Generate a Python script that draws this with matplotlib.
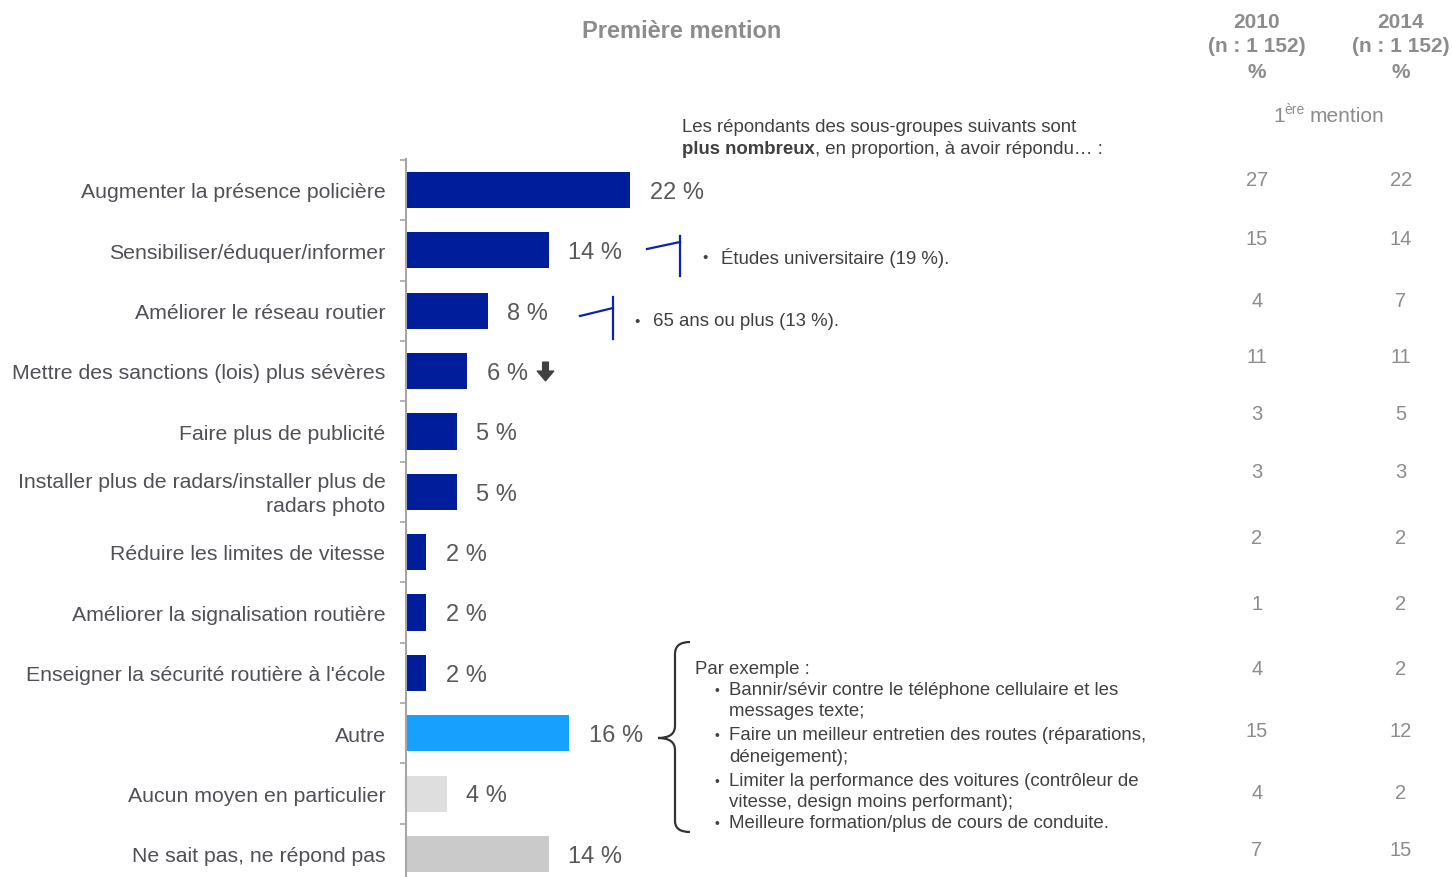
import matplotlib.pyplot as plt
from matplotlib.path import Path
from matplotlib.patches import PathPatch, Polygon

plt.rcParams['font.family'] = ['Liberation Sans', 'DejaVu Sans']

categories = [
    "Augmenter la présence policière",
    "Sensibiliser/éduquer/informer",
    "Améliorer le réseau routier",
    "Mettre des sanctions (lois) plus sévères",
    "Faire plus de publicité",
    "Installer plus de radars/installer plus de\nradars photo",
    "Réduire les limites de vitesse",
    "Améliorer la signalisation routière",
    "Enseigner la sécurité routière à l'école",
    "Autre",
    "Aucun moyen en particulier",
    "Ne sait pas, ne répond pas",
]
values_2014 = [22, 14, 8, 6, 5, 5, 2, 2, 2, 16, 4, 14]
bar_colors = ['#001E9C'] * 9 + ['#18A0FF', '#DEDEDE', '#CACACA']
col_2010 = [27, 15, 4, 11, 3, 3, 2, 1, 4, 15, 4, 7]
col_2014 = [22, 14, 7, 11, 5, 3, 2, 2, 2, 12, 2, 15]
col_y = [179, 238, 300, 356, 413, 471, 537, 603, 668, 730, 792, 849]

W, H = 1452, 878
fig = plt.figure(figsize=(W / 100, H / 100), dpi=100)

TXT = '#505058'
GRAY = '#8C8C8C'
DARK = '#404040'

# bar axes: 10.2 px per percent, rows 60.4 px apart
px_pct = 10.2
row = 60.4
x0, top = 406, 160
ax = fig.add_axes([x0 / W, 0, 30 * px_pct / W, (H - top) / H])
ax.set_xlim(0, 30)
ylo = -(191 - top) / row
yhi = 11 + (H - 855) / row
ax.set_ylim(yhi, ylo)
n = len(categories)
ax.barh(range(n), values_2014, height=0.6, color=bar_colors)
for s in ['top', 'right', 'bottom']:
    ax.spines[s].set_visible(False)
ax.spines['left'].set_color('#A6A6A6')
ax.spines['left'].set_linewidth(1.5)
ax.set_xticks([])
ax.set_yticks([i - 0.5 for i in range(n)])
ax.set_yticklabels([])
ax.tick_params(axis='y', direction='out', length=4, width=1.2, color='#A6A6A6')
ax.patch.set_alpha(0)

for i, (lab, v) in enumerate(zip(categories, values_2014)):
    ax.text(-2.0, i + 0.03, lab, ha='right', va='center', fontsize=15.3, color=TXT,
            multialignment='right', linespacing=1.3)
    ax.text(v + 1.9, i + 0.03, f"{v} %", ha='left', va='center', fontsize=17, color='#595959')

# overlay in pixel coordinates for annotations
ov = fig.add_axes([0, 0, 1, 1])
ov.set_xlim(0, W)
ov.set_ylim(H, 0)
ov.axis('off')
ov.patch.set_alpha(0)

ov.text(682, 32, "Première mention", ha='center', va='center', fontsize=17,
        fontweight='bold', color=GRAY)

for cx, yr in [(1257, "2010"), (1401, "2014")]:
    ov.text(cx, 22, yr, ha='center', va='center', fontsize=15, fontweight='bold', color=GRAY)
    ov.text(cx, 46, "(n : 1 152)", ha='center', va='center', fontsize=15, fontweight='bold', color=GRAY)
    ov.text(cx, 73, "%", ha='center', va='center', fontsize=15, fontweight='bold', color=GRAY)

ov.text(1273, 116, "1", ha='left', va='center', fontsize=15, color=GRAY)
ov.text(1284, 110, "ère", ha='left', va='center', fontsize=10, color=GRAY)
ov.text(1310, 116, "mention", ha='left', va='center', fontsize=15, color=GRAY)

for a, b, y in zip(col_2010, col_2014, col_y):
    ov.text(1257, y + 2, str(a), ha='center', va='center', fontsize=14.5, color=GRAY)
    ov.text(1401, y + 2, str(b), ha='center', va='center', fontsize=14.5, color=GRAY)

ov.text(682, 127, "Les répondants des sous-groupes suivants sont", ha='left', va='center',
        fontsize=13.4, color=DARK)
t = ov.text(682, 149, "plus nombreux", ha='left', va='center', fontsize=13.4,
            fontweight='bold', color=DARK)
ov.annotate(", en proportion, à avoir répondu… :", xycoords=t, xy=(1, 0.5),
            ha='left', va='center', fontsize=13.4, color=DARK)

# callouts
BLUE = '#0A24A8'
ov.plot([647, 680], [250, 243], color=BLUE, lw=1.6)
ov.plot([680, 680], [237, 277], color=BLUE, lw=1.6)
ov.text(705, 258, "•", ha='center', va='center', fontsize=11, color=DARK)
ov.text(721, 258, "Études universitaire (19 %).", ha='left', va='center', fontsize=13.4, color=DARK)

ov.plot([580, 613], [317, 309], color=BLUE, lw=1.6)
ov.plot([613, 613], [298, 340], color=BLUE, lw=1.6)
ov.text(637, 322, "•", ha='center', va='center', fontsize=11, color=DARK)
ov.text(653, 322, "65 ans ou plus (13 %).", ha='left', va='center', fontsize=13.4, color=DARK)

# down arrow next to 6 %
ov.add_patch(Polygon([(542.5, 363), (548.5, 363), (548.5, 372), (554, 372), (545.5, 382),
                      (537, 372), (542.5, 372)], closed=True, color='#404040', lw=0.8))

# brace
verts = [(690, 643), (675, 643), (675, 655), (675, 727), (675, 739), (658, 739),
         (675, 739), (675, 751), (675, 822), (675, 833), (690, 833)]
codes = [Path.MOVETO, Path.CURVE3, Path.CURVE3, Path.LINETO, Path.CURVE3, Path.CURVE3,
         Path.CURVE3, Path.CURVE3, Path.LINETO, Path.CURVE3, Path.CURVE3]
ov.add_patch(PathPatch(Path(verts, codes), fill=False, lw=1.6, edgecolor='#333333'))

ov.text(695, 670, "Par exemple :", ha='left', va='center', fontsize=13.4, color=DARK)
examples = [
    ("Bannir/sévir contre le téléphone cellulaire et les", True, 691),
    ("messages texte;", False, 712),
    ("Faire un meilleur entretien des routes (réparations,", True, 736),
    ("déneigement);", False, 758),
    ("Limiter la performance des voitures (contrôleur de", True, 782),
    ("vitesse, design moins performant);", False, 803),
    ("Meilleure formation/plus de cours de conduite.", True, 824),
]
for txt, bullet, y in examples:
    if bullet:
        ov.text(717, y, "•", ha='center', va='center', fontsize=10, color=DARK)
    ov.text(729, y, txt, ha='left', va='center', fontsize=13.4, color=DARK)

fig.savefig('out.png', dpi=100)
